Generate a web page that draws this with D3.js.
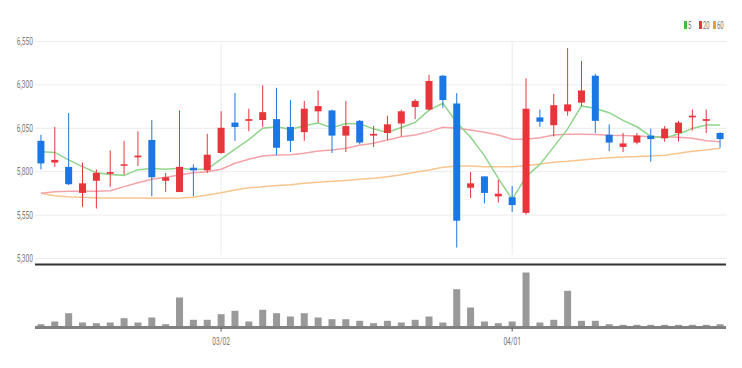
<!DOCTYPE html>
<meta charset="utf-8">

<style>

body { margin: 0; background: #fff; }

svg text {
  font-family: Roboto, "Noto Sans", sans-serif;
  fill: #777;
}

.grid line { stroke: #ececec; }
.grid path { display: none; }

</style>

<svg class="chart" width="742" height="368"></svg>

<script src="https://d3js.org/d3.v7.min.js"></script>

<script>

var dates = ["02/10","02/11","02/14","02/15","02/16","02/17","02/18","02/21","02/22","02/23",
  "02/24","02/25","02/28","03/02","03/03","03/04","03/07","03/08","03/10","03/11",
  "03/14","03/15","03/16","03/17","03/18","03/21","03/22","03/23","03/24","03/25",
  "03/28","03/29","03/30","03/31","04/01","04/04","04/05","04/06","04/07","04/08",
  "04/11","04/12","04/13","04/14","04/15","04/18","04/19","04/20","04/21","04/22"];

var open  = [5975,5850,5825,5675,5745,5785,5835,5880,5980,5745, 5680,5820,5805,5905,6080,6090,6095,6100,6055,6025,
             6145,6150,6005,6090,6005,6020,6075,6170,6155,6350, 6190,5705,5770,5655,5650,5560,6110,6065,6145,6195,
             6350,6010,5940,5965,6005,5990,6020,6110,6090,6020];
var high  = [6010,6055,6135,5850,5810,5920,5975,6030,6095,5790, 6150,5840,6015,6145,6250,6160,6295,6280,6210,6205,
             6265,6155,6205,6095,6060,6120,6155,6215,6355,6355, 6250,5795,5770,5750,5715,6335,6155,6245,6510,6435,
             6360,6070,6020,6020,6045,6060,6090,6155,6155,6025];
var low   = [5810,5825,5720,5595,5585,5710,5780,5830,5655,5680, 5680,5655,5790,5900,5975,6030,6055,5895,5910,5975,
             6080,5905,5910,5955,5940,5980,6000,6100,6150,6165, 5360,5645,5615,5620,5565,5550,6055,6000,6120,6175,
             6020,5915,5910,5955,5855,5970,5970,6035,6020,5935];
var close = [5845,5865,5725,5730,5790,5795,5840,5890,5765,5765, 5825,5805,5895,6050,6055,6100,6140,5935,5975,6160,
             6175,6005,6060,5965,6015,6070,6145,6205,6320,6210, 5515,5730,5675,5670,5605,6160,6085,6180,6185,6265,
             6090,5965,5960,6005,5985,6045,6080,6120,6100,5985];

var volume = [33000,60000,143000,50000,43000,50000,93000,50000,100000,33000,
              300000,77000,77000,133000,167000,60000,177000,143000,110000,143000,
              100000,83000,83000,67000,43000,67000,50000,77000,110000,50000,
              383000,200000,60000,43000,60000,550000,50000,77000,367000,67000,
              67000,33000,27000,27000,27000,27000,27000,27000,27000,33000];

var ma5  = [5912,5908,5865,5826,5791,5781,5776,5809,5816,5811, 5817,5810,5812,5869,5927,5982,6048,6056,6041,6062,
            6077,6050,6075,6073,6044,6023,6052,6081,6152,6191, 6080,5996,5890,5759,5638,5768,5839,5940,6044,6176,
            6161,6137,6093,6056,6001,5991,6014,6046,6066,6066];
var ma20 = [5673,5682,5685,5685,5685,5688,5711,5734,5753,5765, 5778,5791,5797,5811,5846,5869,5888,5893,5895,5903,
            5916,5922,5932,5949,5961,5980,5999,6009,6028,6053, 6047,6037,6024,6009,5984,5984,5993,6009,6013,6013,
            6011,6007,6005,6003,5999,5999,5995,5990,5976,5970];
var ma60 = [5673,5659,5653,5650,5646,5646,5646,5646,5644,5644, 5646,5650,5663,5676,5692,5704,5711,5717,5722,5730,
            5736,5742,5747,5753,5759,5768,5780,5794,5807,5823, 5830,5830,5826,5826,5826,5832,5842,5851,5857,5865,
            5872,5878,5882,5884,5888,5892,5903,5915,5922,5932];

var priceTicks = [5300, 5550, 5800, 6050, 6300, 6550];
var dateTicks = ["03/02", "04/01"];
var legendNames = ["5", "20", "60"];

var upColor = "#e8353b", downColor = "#1b77e4";
var maColors = ["#8fd68c", "#f5a2a8", "#f8c58f"];

var svg = d3.select("svg.chart");
var left = 34, right = 727;

var x = d3.scaleBand().domain(dates).range([left, right]);
var y = d3.scaleLinear().domain([5300, 6550]).range([258, 41]);
var yVol = d3.scaleLinear().domain([0, d3.max(volume)]).range([327.5, 272.5]);

function squeeze(sel, ratio) {
  sel.each(function() {
    var w = this.getComputedTextLength();
    d3.select(this).attr("textLength", w * ratio).attr("lengthAdjust", "spacingAndGlyphs");
  });
}

// horizontal grid
svg.append("g")
  .attr("class", "grid")
  .attr("transform", `translate(${left + 1},0)`)
  .call(d3.axisLeft(y).tickValues(priceTicks).tickSize(-(right - left - 1)).tickFormat(""));

// vertical grid at month starts
svg.append("g")
  .attr("class", "grid")
  .attr("transform", "translate(0,255)")
  .call(d3.axisBottom(x).tickValues(dateTicks).tickSize(-214).tickFormat(""));

// price labels
var yAxis = svg.append("g")
  .attr("transform", "translate(33,0)")
  .call(d3.axisLeft(y).tickValues(priceTicks).tickSize(0).tickPadding(0).tickFormat(d3.format(",")));
yAxis.select(".domain").remove();
yAxis.selectAll("text").style("font-size", "11px").style("fill", "#777").call(squeeze, 0.6);

// moving averages
var maData = [ma5, ma20, ma60];
var line = d3.line()
  .x(function(d, i) { return x(dates[i]) + x.bandwidth() / 2; })
  .y(function(d) { return y(d); });

svg.append("g").selectAll("path")
  .data(maData.slice().reverse())
  .enter().append("path")
    .attr("d", line)
    .attr("fill", "none")
    .attr("stroke-width", 1.5)
    .attr("stroke", function(d, i) { return maColors[2 - i]; });

// candles
var candle = svg.append("g").selectAll("g")
  .data(dates)
  .enter().append("g")
    .attr("transform", function(d) { return `translate(${x(d) + x.bandwidth() / 2},0)`; });

function color(i) { return close[i] >= open[i] ? upColor : downColor; }

candle.append("line")
  .attr("y1", function(d, i) { return y(high[i]); })
  .attr("y2", function(d, i) { return y(low[i]); })
  .attr("stroke", function(d, i) { return color(i); })
  .attr("stroke-width", 1);

candle.append("rect")
  .attr("x", -3.5)
  .attr("width", 7)
  .attr("y", function(d, i) { return y(Math.max(open[i], close[i])); })
  .attr("height", function(d, i) { return Math.max(1.5, Math.abs(y(open[i]) - y(close[i]))); })
  .attr("fill", function(d, i) { return color(i); });

// divider
svg.append("line")
  .attr("x1", left + 1).attr("x2", right - 1)
  .attr("y1", 264.5).attr("y2", 264.5)
  .attr("stroke", "#333").attr("stroke-width", 2);

// volume bars
svg.append("g").selectAll("rect")
  .data(volume)
  .enter().append("rect")
    .attr("x", function(d, i) { return x(dates[i]) + x.bandwidth() / 2 - 3.5; })
    .attr("width", 7)
    .attr("y", function(d) { return yVol(d); })
    .attr("height", function(d) { return yVol(0) - yVol(d); })
    .attr("fill", "#999");

// volume axis
var xAxis = svg.append("g")
  .attr("transform", "translate(0,327.5)")
  .call(d3.axisBottom(x).tickValues(dateTicks).tickSize(4).tickPadding(6));
xAxis.select(".domain").attr("stroke", "#808080").attr("stroke-width", 3)
  .attr("d", `M${left + 1},0H${right - 1}`);
xAxis.selectAll(".tick line").attr("stroke", "#555");
xAxis.selectAll("text").style("font-size", "11px").style("fill", "#777").call(squeeze, 0.6);

// legend
var legend = svg.append("g").attr("transform", "translate(684,21)");
var item = legend.selectAll("g")
  .data(legendNames)
  .enter().append("g")
    .attr("transform", function(d, i) { return `translate(${[0, 15, 29][i]},0)`; });
item.append("rect")
  .attr("width", 3).attr("height", 8)
  .attr("fill", function(d, i) { return ["#3cbf3c", "#e8353b", "#f29a3a"][i]; });
item.append("text")
  .attr("x", 4).attr("y", 8)
  .style("font-size", "10px")
  .text(function(d) { return d; })
  .call(squeeze, 0.6);

</script>
